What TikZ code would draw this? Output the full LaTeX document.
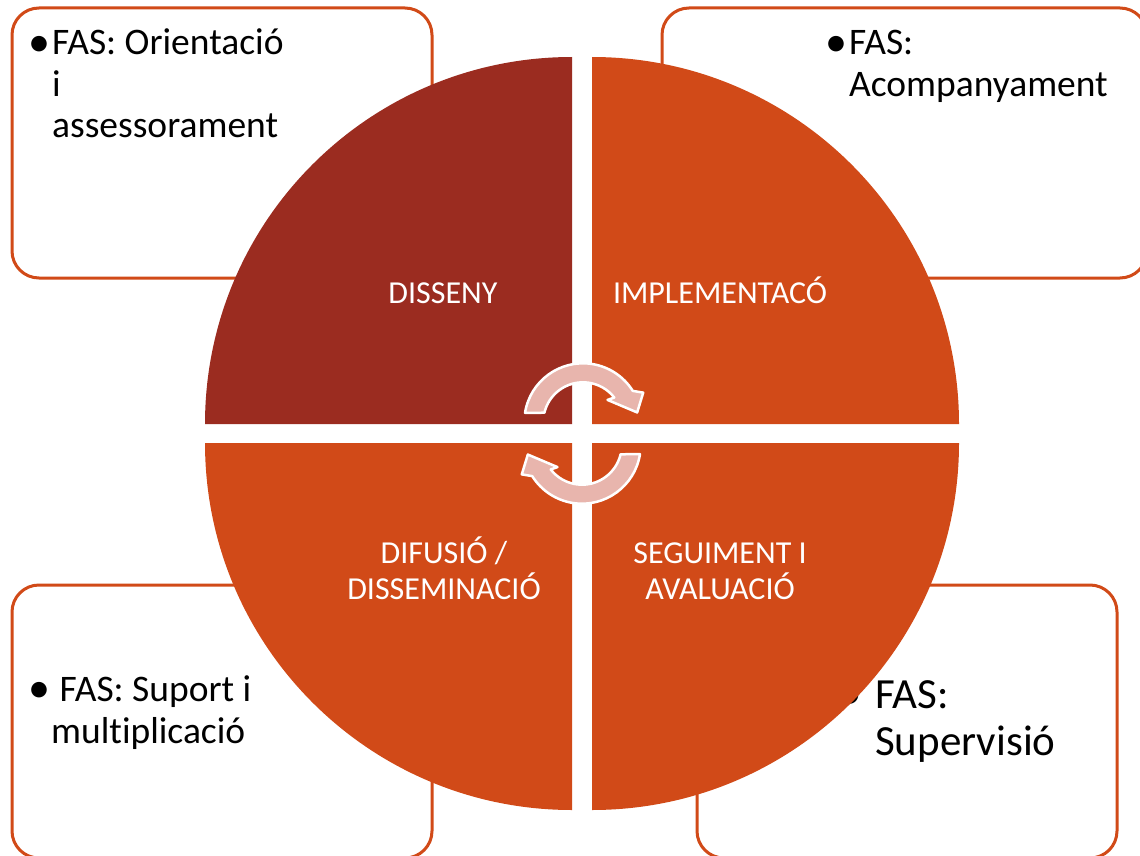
\documentclass[tikz,border=0pt]{standalone}
\usepackage{fontspec}
\setmainfont{Carlito}[Ligatures=NoCommon]
\definecolor{orangeQ}{HTML}{D14A18}
\definecolor{darkQ}{HTML}{9B2C20}
\definecolor{pinkA}{HTML}{E8B5AD}
\begin{document}
\begin{tikzpicture}[x=1pt,y=-1pt,
  fasbox/.style={draw=orangeQ, line width=3pt, rounded corners=27pt, fill=white},
  arrowshape/.style={fill=pinkA, draw=white, line width=2.5pt, line join=round},
  boxtext/.style={anchor=base west, inner sep=0pt, font=\fontsize{37.5}{41.5}\selectfont},
  bigtext/.style={anchor=base west, inner sep=0pt, font=\fontsize{43}{47}\selectfont},
  bul/.style={anchor=base, inner sep=0pt, font=\fontsize{44}{44}\selectfont},
  qlabel/.style={anchor=base, inner sep=0pt, text=white, font=\fontsize{32}{33}\selectfont}]
\useasboundingbox (0,0) rectangle (1140,856);
\fill[white] (0,0) rectangle (1140,856);
\begin{scope}
\clip (0,0) rectangle (1140,856);
% corner boxes
\draw[fasbox] (12,8) rectangle (432,278);
\draw[fasbox] (662,8) rectangle (1147,278);
\draw[fasbox] (12,585) rectangle (432,858);
\draw[fasbox] (697,585) rectangle (1117,858);
% box texts
\node[bul] (b1) at (39,56.8) {•};
\node[boxtext] (t1) at (52,55) {\begin{tabular}[t]{@{}l@{}}FAS: Orientació\\ i\\ assessorament\end{tabular}};
\node[bul] (b2) at (836,56.8) {•};
\node[boxtext] (t2) at (849,55) {\begin{tabular}[t]{@{}l@{}}FAS:\\ Acompanyament\end{tabular}};
\node[bul] (b3) at (39,702.3) {•};
\node[boxtext] (t3) at (51,701.5) {\begin{tabular}[t]{@{}l@{}}\ FAS: Suport i\\ multiplicació\end{tabular}};
\node[bul, font=\fontsize{50}{50}\selectfont] (b4) at (850,709) {•};
\node[bigtext] (t4) at (875,708) {\begin{tabular}[t]{@{}l@{}}FAS:\\ Supervisió\end{tabular}};
% quadrants
\fill[darkQ] (572,424) -- (205,424) arc[start angle=180, end angle=270, radius=367] -- cycle;
\fill[orangeQ] (592,424) -- (592,57) arc[start angle=270, end angle=360, radius=367] -- cycle;
\fill[orangeQ] (592,443) -- (959,443) arc[start angle=0, end angle=90, radius=367] -- cycle;
\fill[orangeQ] (572,443) -- (572,810) arc[start angle=90, end angle=180, radius=367] -- cycle;
% circular arrows
\coordinate (ac) at (583,422);
\path[arrowshape] ([shift={(ac)}]189:58.7) arc[start angle=189, end angle=328, radius=58.7]
  -- ([shift={(ac)}]334:67) -- ([shift={(ac)}]350:55) -- ([shift={(ac)}]318:33)
  -- ([shift={(ac)}]322:39.7) arc[start angle=322, end angle=193.5, radius=39.7] -- cycle;
\begin{scope}[rotate around={180:(582.5,433.5)}]
\path[arrowshape] ([shift={(ac)}]189:58.7) arc[start angle=189, end angle=328, radius=58.7]
  -- ([shift={(ac)}]334:67) -- ([shift={(ac)}]350:55) -- ([shift={(ac)}]318:33)
  -- ([shift={(ac)}]322:39.7) arc[start angle=322, end angle=193.5, radius=39.7] -- cycle;
\end{scope}
% quadrant labels
\node[qlabel] (q1) at (443,303) {DISSENY};
\node[qlabel] (q2) at (720,303) {IMPLEMENTACÓ};
\node[qlabel] (q3) at (444,563) {\begin{tabular}[t]{@{}c@{}}DIFUSIÓ /\\ DISSEMINACIÓ\end{tabular}};
\node[qlabel] (q4) at (720,563) {\begin{tabular}[t]{@{}c@{}}SEGUIMENT I\\ AVALUACIÓ\end{tabular}};
\end{scope}
\end{tikzpicture}
\end{document}
